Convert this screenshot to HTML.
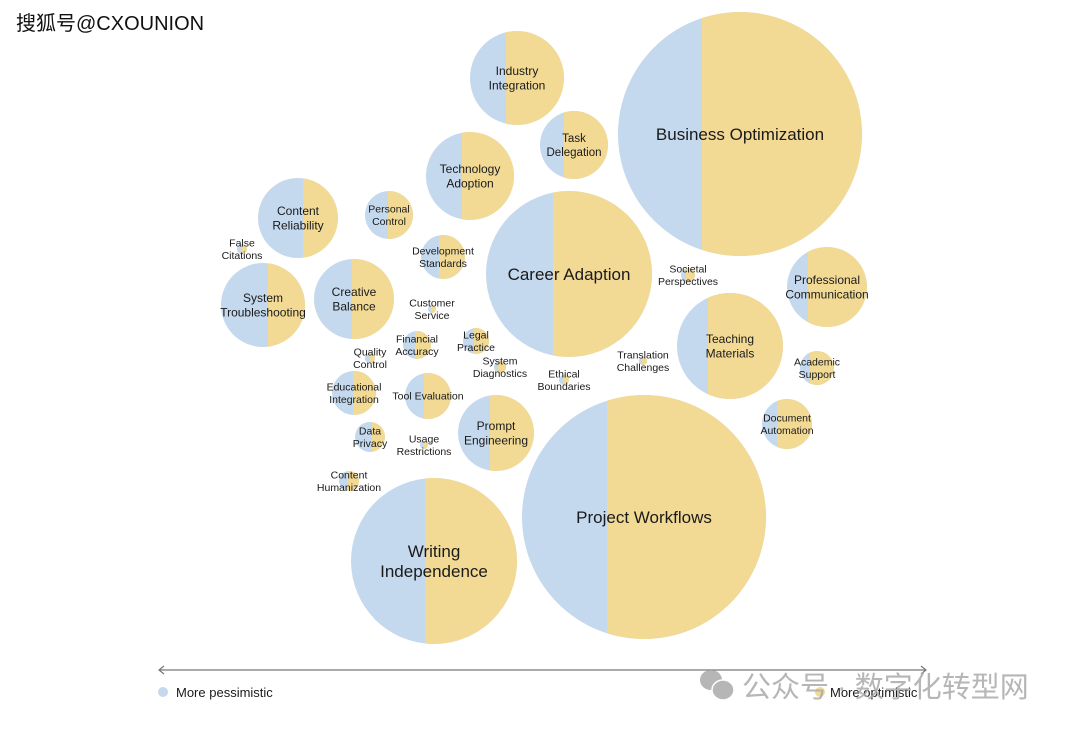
<!DOCTYPE html>
<html><head><meta charset="utf-8"><style>
body{margin:0;background:#fff;width:1080px;height:730px;overflow:hidden}
svg text{font-family:"Liberation Sans","Noto Sans CJK SC",sans-serif;fill:#1a1a1a;text-anchor:middle}
</style></head><body>
<svg width="1080" height="730" viewBox="0 0 1080 730">
<defs id="d"></defs>
<g id="g"></g>
<line x1="160" y1="670" x2="925" y2="670" stroke="#777" stroke-width="1.2"/>
<path d="M164 666 L159 670 L164 674 M921 666 L926 670 L921 674" fill="none" stroke="#777" stroke-width="1.2"/>
<circle cx="163" cy="692" r="5" fill="#c4d8ee"/>
<text x="176" y="697" font-size="13" style="text-anchor:start">More pessimistic</text>
<circle cx="820" cy="692" r="5" fill="#f2da95"/>
<text x="830" y="697" font-size="13" style="text-anchor:start">More optimistic</text>
<g fill="#aaa" opacity=".85"><ellipse cx="711" cy="680" rx="11" ry="10"/><ellipse cx="723" cy="690" rx="11" ry="10" stroke="#fff" stroke-width="1.5"/></g>
<text x="742" y="697" font-size="29" style="text-anchor:start;fill:#aaa;opacity:.85">公众号 · 数字化转型网</text>
<text x="16" y="30" font-size="20" style="text-anchor:start;fill:#111">搜狐号@CXOUNION</text>
</svg>
<script>
const C=[
[517,78,47,506,["Industry","Integration"],12],
[740,134,122,702,["Business Optimization"],17],
[574,145,34,564,["Task","Delegation"],11.5],
[470,176,44,462,["Technology","Adoption"],12],
[298,218,40,303,["Content","Reliability"],12],
[389,215,24,388,["Personal","Control"],10.5],
[569,274,83,553,["Career Adaption"],17],
[443,257,22,439,["Development","Standards"],10.5],
[242,249,5,241,["False","Citations"],10.5],
[263,305,42,268,["System","Troubleshooting"],12],
[354,299,40,352,["Creative","Balance"],12],
[827,287,40,808,["Professional","Communication"],12],
[688,275,7,686,["Societal","Perspectives"],10.5],
[730,346,53,708,["Teaching","Materials"],12],
[432,309,4,431,["Customer","Service"],10.5],
[417,345,14,415,["Financial","Accuracy"],10.5],
[476,341,13,474,["Legal","Practice"],10.5],
[370,358,5,369,["Quality","Control"],10.5],
[500,367,6,498,["System","Diagnostics"],10.5],
[564,380,5,563,["Ethical","Boundaries"],10.5],
[643,361,4,642,["Translation","Challenges"],10.5],
[817,368,17,810,["Academic","Support"],10.5],
[354,393,22,353,["Educational","Integration"],10.5],
[428,396,23,424,["Tool Evaluation"],10.5],
[787,424,25,777,["Document","Automation"],10.5],
[496,433,38,490,["Prompt","Engineering"],12],
[370,437,15,372,["Data","Privacy"],10.5],
[424,445,4,423,["Usage","Restrictions"],10.5],
[349,481,10,347,["Content","Humanization"],10.5],
[434,561,83,425,["Writing","Independence"],17],
[644,517,122,607,["Project Workflows"],17]];
const g=document.getElementById('g'),d=document.getElementById('d');
let s='',ds='';
C.forEach((c,i)=>{
ds+=`<clipPath id="k${i}"><rect x="${c[3]}" y="0" width="2000" height="2000"/></clipPath>`;
s+=`<circle cx="${c[0]}" cy="${c[1]}" r="${c[2]}" fill="#c4d8ee"/><circle cx="${c[0]}" cy="${c[1]}" r="${c[2]}" fill="#f2da95" clip-path="url(#k${i})"/>`;
});
C.forEach(c=>{const L=c[4],fs=c[5],lh=fs*1.2;const y0=c[1]-(L.length-1)*lh/2+fs*0.35;
L.forEach((t,j)=>{s+=`<text x="${c[0]}" y="${y0+j*lh}" font-size="${fs}">${t}</text>`;});});
d.innerHTML=ds;g.innerHTML=s;
</script>
</body></html>
